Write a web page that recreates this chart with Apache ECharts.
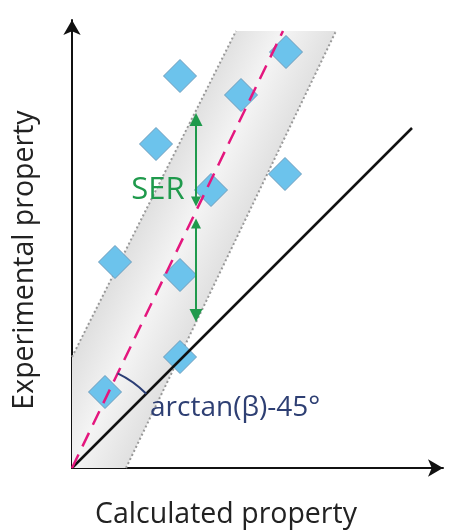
<!DOCTYPE html>
<html>
<head>
<meta charset="utf-8">
<script src="https://cdn.jsdelivr.net/npm/echarts@6/dist/echarts.min.js"></script>
<style>
  html, body { margin: 0; padding: 0; background: #fff; }
  #chart { width: 451px; height: 531px; }
</style>
</head>
<body>
<div id="chart"></div>
<script>
// axis ranges (same scale on both axes so the identity line sits at 45 deg)
const xMax = 37.1;
const yMax = 44.8;

// measured points
const calc = [10.8, 21.4, 16.9, 8.4, 21.3, 13.9, 4.3, 10.8, 10.8, 3.3];
const expt = [39.2, 41.6, 37.3, 32.4, 29.4, 27.8, 20.6, 19.3, 11.1, 7.6];

// lines
const identityLine = [[0, 0], [34.0, 34.0]];
const fitLine = [[0, 0], [21.1, 43.7]];

// SER band
const bandX = [0, 5.4, 26.4, 16.4, 0];
const bandY = [0, 0, 43.7, 43.7, 11.1];
const bandUpper = [[0, 11.1], [16.4, 43.7]];
const bandLower = [[5.4, 0], [26.4, 43.7]];

// SER arrows (x, from y, to y) - heads are centred on the ends
const serX = 12.4;
const serUpper = [26.65, 34.85];
const serLower = [24.45, 15.25];

// angle arc radius
const arcR = 10.5;

const chart = echarts.init(document.getElementById("chart"));

const option = {
  animation: false,
  grid: { left: 72, top: 20, width: 371, height: 448 },
  xAxis: {
    type: "value",
    min: 0,
    max: xMax,
    axisLine: {
      show: true,
      symbol: ["none", "arrow"],
      symbolSize: [13, 15],
      lineStyle: { color: "#111", width: 2 },
    },
    axisTick: { show: false },
    axisLabel: { show: false },
    splitLine: { show: false },
  },
  yAxis: {
    type: "value",
    min: 0,
    max: yMax,
    axisLine: {
      show: true,
      symbol: ["none", "arrow"],
      symbolSize: [13, 15],
      lineStyle: { color: "#111", width: 2 },
    },
    axisTick: { show: false },
    axisLabel: { show: false },
    splitLine: { show: false },
  },
  series: [
    {
      type: "custom",
      z: 1,
      silent: true,
      data: [0],
      renderItem: function (params, api) {
        const pts = bandX.map((x, i) => api.coord([x, bandY[i]]));
        const o = api.coord(fitLine[0]);
        const t = api.coord(fitLine[1]);
        const len = Math.hypot(t[0] - o[0], t[1] - o[1]);
        const n = [-(t[1] - o[1]) / len, (t[0] - o[0]) / len];
        const c = [(o[0] + t[0]) / 2, (o[1] + t[1]) / 2];
        const w = 50;
        return {
          type: "polygon",
          shape: { points: pts },
          style: {
            fill: new echarts.graphic.LinearGradient(
              c[0] + n[0] * w, c[1] + n[1] * w,
              c[0] - n[0] * w, c[1] - n[1] * w,
              [
                { offset: 0, color: "#e0e0e0" },
                { offset: 0.5, color: "#f4f4f4" },
                { offset: 1, color: "#dedede" },
              ],
              true
            ),
          },
        };
      },
    },
    {
      type: "line",
      z: 2,
      data: bandUpper,
      showSymbol: false,
      silent: true,
      lineStyle: { color: "#999", width: 2, type: [2, 2.5] },
    },
    {
      type: "line",
      z: 2,
      data: bandLower,
      showSymbol: false,
      silent: true,
      lineStyle: { color: "#999", width: 2, type: [2, 2.5] },
    },
    {
      type: "scatter",
      z: 3,
      symbol: "diamond",
      symbolSize: 33,
      data: calc.map((x, i) => [x, expt[i]]),
      itemStyle: { color: "#6cc3ec", borderColor: "#6d9cbc", borderWidth: 1, opacity: 1 },
    },
    {
      type: "line",
      z: 4,
      data: identityLine,
      showSymbol: false,
      silent: true,
      lineStyle: { color: "#111", width: 2.5 },
    },
    {
      type: "line",
      z: 4,
      data: fitLine,
      showSymbol: false,
      silent: true,
      lineStyle: { color: "#e4177e", width: 2.5, type: [15, 9] },
    },
    {
      type: "lines",
      coordinateSystem: "cartesian2d",
      z: 5,
      silent: true,
      symbol: ["triangle", "triangle"],
      symbolSize: [10, 13],
      lineStyle: { color: "#1f9a4c", width: 2, opacity: 1 },
      data: [
        { coords: [[serX, serUpper[0]], [serX, serUpper[1]]] },
        { coords: [[serX, serLower[0]], [serX, serLower[1]]] },
      ],
    },
    {
      // angle between fit line and identity line
      type: "custom",
      z: 5,
      silent: true,
      data: [0],
      renderItem: function (params, api) {
        const o = api.coord([0, 0]);
        const r = api.size([arcR, 0])[0];
        const a1 = Math.atan2(identityLine[1][1], identityLine[1][0]);
        const a2 = Math.atan2(fitLine[1][1], fitLine[1][0]);
        return {
          type: "arc",
          shape: { cx: o[0], cy: o[1], r: r, startAngle: -a2, endAngle: -a1, clockwise: true },
          style: { stroke: "#2b3e75", lineWidth: 2, fill: null },
        };
      },
    },
  ],
  graphic: [
    {
      type: "text",
      z: 100,
      x: 226,
      y: 515,
      style: {
        text: "Calculated property",
        font: "28.5px 'Open Sans'",
        fill: "#222",
        align: "center",
        verticalAlign: "middle",
      },
    },
    {
      type: "text",
      z: 100,
      x: 25,
      y: 260,
      rotation: Math.PI / 2,
      style: {
        text: "Experimental property",
        font: "28.5px 'Open Sans'",
        fill: "#222",
        align: "center",
        verticalAlign: "middle",
      },
    },
    {
      type: "text",
      z: 100,
      x: 158,
      y: 190,
      style: {
        text: "SER",
        font: "31px 'Open Sans'",
        fill: "#1f9a4c",
        align: "center",
        verticalAlign: "middle",
      },
    },
    {
      type: "text",
      z: 100,
      x: 150,
      y: 408,
      style: {
        text: "arctan(β)-45°",
        font: "28px 'Open Sans'",
        fill: "#2e3f73",
        align: "left",
        verticalAlign: "middle",
      },
    },
  ],
};

chart.setOption(option);
</script>
</body>
</html>
